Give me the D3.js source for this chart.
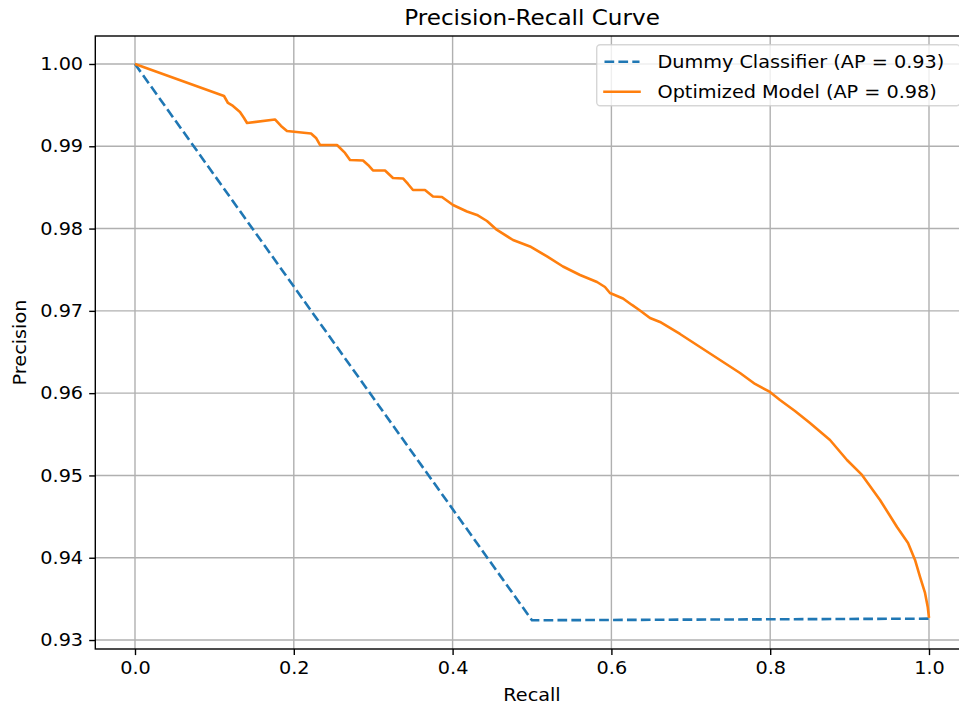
<!DOCTYPE html>
<html>
<head>
<meta charset="utf-8">
<script src="https://cdn.jsdelivr.net/npm/d3@7"></script>
<style>
  body { margin: 0; background: #fff; }
  svg { display: block; font-family: "DejaVu Sans", sans-serif; }
</style>
</head>
<body>
<div id="chart"></div>
<script>
// data
const dummyRecall = [0, 0.5, 1.0];
const dummyPrecision = [1.0, 0.9324, 0.9326];

const modelRecall = [
  0, 0.1121, 0.1171, 0.1234, 0.1322, 0.1373, 0.1411, 0.1763, 0.1839, 0.1914,
  0.2217, 0.2280, 0.2330, 0.2544, 0.2645, 0.2708, 0.2872, 0.2935, 0.2997, 0.3149,
  0.3249, 0.3375, 0.3438, 0.3501, 0.3652, 0.3753, 0.3866, 0.4005, 0.4181, 0.4307,
  0.4433, 0.4559, 0.4761, 0.4975, 0.5189, 0.5390, 0.5605, 0.5819, 0.5919, 0.5982,
  0.6146, 0.6259, 0.6360, 0.6486, 0.6612, 0.6864, 0.7116, 0.7368, 0.7620, 0.7809,
  0.7997, 0.8123, 0.8312, 0.8501, 0.8753, 0.8967, 0.9156, 0.9383, 0.9597, 0.9736,
  0.9824, 0.9887, 0.9950, 0.9984, 1.0
];
const modelPrecision = [
  1.0, 0.99611, 0.99526, 0.99490, 0.99417, 0.99344, 0.99283, 0.99326, 0.99247, 0.99186,
  0.99156, 0.99101, 0.99016, 0.99016, 0.98919, 0.98834, 0.98827, 0.98773, 0.98706, 0.98706,
  0.98615, 0.98609, 0.98542, 0.98469, 0.98469, 0.98390, 0.98384, 0.98287, 0.98208, 0.98165,
  0.98092, 0.97983, 0.97861, 0.97783, 0.97661, 0.97539, 0.97436, 0.97351, 0.97290, 0.97217,
  0.97151, 0.97072, 0.97005, 0.96914, 0.96865, 0.96719, 0.96561, 0.96403, 0.96245, 0.96112,
  0.96015, 0.95917, 0.95784, 0.95638, 0.95431, 0.95188, 0.95006, 0.94702, 0.94374, 0.94180,
  0.93973, 0.93767, 0.93572, 0.93402, 0.93268
];

const xTicks = [0, 0.2, 0.4, 0.6, 0.8, 1.0];
const yTicks = [0.93, 0.94, 0.95, 0.96, 0.97, 0.98, 0.99, 1.00];

const legendLabels = ["Dummy Classifier (AP = 0.93)", "Optimized Model (AP = 0.98)"];
const colors = ["#1f77b4", "#ff7f0e"];

const W = 959, H = 706;
const margin = { left: 95.3, right: 968.7, top: 36, bottom: 649 };
const fs = 17.5;   // matplotlib 10pt at this scale
const sx = 1.1;    // text in the picture is a bit wider than plain DejaVu

const svg = d3.select('#chart').append('svg')
  .attr('width', W)
  .attr('height', H);

const x = d3.scaleLinear().domain([-0.05, 1.05]).range([margin.left, margin.right]);
const y = d3.scaleLinear().domain([0.92891, 1.0034]).range([margin.bottom, margin.top]);

// helper: text stretched sideways around its anchor
const addText = (parent, tx, ty, str, size, anchor, rotate) => {
  parent.append('text')
    .attr('transform', `translate(${tx}, ${ty})${rotate ? ' rotate(-90)' : ''} scale(${sx}, 1)`)
    .attr('text-anchor', anchor)
    .style('font-size', size + 'px')
    .attr('fill', '#000')
    .text(str);
};

// grid
svg.append('g')
  .selectAll('line')
  .data(xTicks)
  .enter().append('line')
  .attr('x1', d => x(d)).attr('x2', d => x(d))
  .attr('y1', margin.top).attr('y2', margin.bottom)
  .attr('stroke', '#b0b0b0').attr('stroke-width', 1.4);

svg.append('g')
  .selectAll('line')
  .data(yTicks)
  .enter().append('line')
  .attr('y1', d => y(d)).attr('y2', d => y(d))
  .attr('x1', margin.left).attr('x2', margin.right)
  .attr('stroke', '#b0b0b0').attr('stroke-width', 1.4);

// lines
const line = d3.line().x(d => x(d[0])).y(d => y(d[1]));

const dummyData = dummyRecall.map((r, i) => [r, dummyPrecision[i]]);
const modelData = modelRecall.map((r, i) => [r, modelPrecision[i]]);

svg.append('path')
  .datum(dummyData)
  .attr('d', line)
  .attr('fill', 'none')
  .attr('stroke', colors[0])
  .attr('stroke-width', 2.6)
  .attr('stroke-dasharray', '9.7,4.2');

svg.append('path')
  .datum(modelData)
  .attr('d', line)
  .attr('fill', 'none')
  .attr('stroke', colors[1])
  .attr('stroke-width', 2.6)
  .attr('stroke-linejoin', 'round');

// axes
const xAxis = svg.append('g')
  .attr('transform', `translate(0, ${margin.bottom})`)
  .call(d3.axisBottom(x).tickValues(xTicks).tickFormat(d3.format('.1f')).tickSize(6.1).tickPadding(6.1));

const yAxis = svg.append('g')
  .attr('transform', `translate(${margin.left}, 0)`)
  .call(d3.axisLeft(y).tickValues(yTicks).tickFormat(d3.format('.2f')).tickSize(6.1).tickPadding(6.1));

[xAxis, yAxis].forEach(a => {
  a.select('.domain').remove();
  a.selectAll('.tick line').attr('stroke', '#000').attr('stroke-width', 1.4);
  a.selectAll('.tick text')
    .attr('fill', '#000')
    .style('font-size', fs + 'px')
    .style('font-family', '"DejaVu Sans", sans-serif')
    .attr('transform', `scale(${sx}, 1)`);
});
yAxis.selectAll('.tick text').attr('x', -12.2 / sx);

// frame
svg.append('rect')
  .attr('x', margin.left).attr('y', margin.top)
  .attr('width', margin.right - margin.left)
  .attr('height', margin.bottom - margin.top)
  .attr('fill', 'none')
  .attr('stroke', '#000')
  .attr('stroke-width', 1.4);

// title and labels
const midX = (margin.left + margin.right) / 2;
addText(svg, midX, 25, 'Precision-Recall Curve', 21, 'middle');
addText(svg, midX, 701, 'Recall', fs, 'middle');
addText(svg, 26, (margin.top + margin.bottom) / 2, 'Precision', fs, 'middle', true);

// legend
const legend = svg.append('g');
legend.append('rect')
  .attr('x', 596.7).attr('y', 44.8)
  .attr('width', 960 - 596.7).attr('height', 61)
  .attr('rx', 3.5)
  .attr('fill', 'rgba(255,255,255,0.8)')
  .attr('stroke', 'rgba(204,204,204,0.8)')
  .attr('stroke-width', 1.4);

legendLabels.forEach((label, i) => {
  const cy = 61.7 + i * 30;
  legend.append('line')
    .attr('x1', 604.5).attr('x2', 639.5)
    .attr('y1', cy).attr('y2', cy)
    .attr('stroke', colors[i])
    .attr('stroke-width', 2.6)
    .attr('stroke-dasharray', i === 0 ? '9.7,4.2' : null)
    .attr('stroke-linecap', i === 0 ? 'butt' : 'square');
  addText(legend, 657.5, cy + 6.3, label, fs, 'start');
});
</script>
</body>
</html>
